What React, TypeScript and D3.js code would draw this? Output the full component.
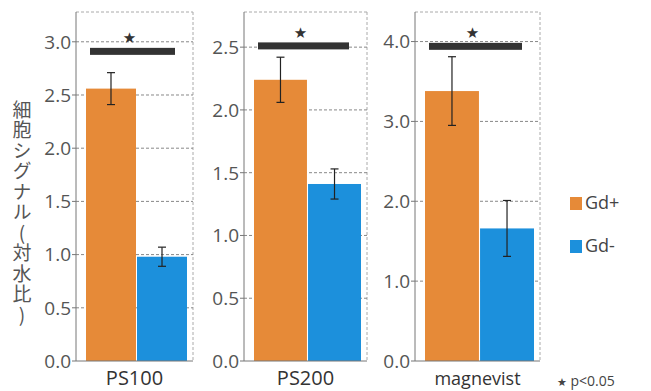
import React from 'react';
import * as d3 from 'd3';

// data
const categories = ['PS100', 'PS200', 'magnevist'];
const series = ['Gd+', 'Gd-'];
const gdPlus = [2.56, 2.24, 3.38];
const gdPlusErr = [0.15, 0.18, 0.43];
const gdMinus = [0.98, 1.41, 1.66];
const gdMinusErr = [0.09, 0.12, 0.35];
const yMax = [3.28, 2.78, 4.37];
const tickValues = [
  [0, 0.5, 1, 1.5, 2, 2.5, 3],
  [0, 0.5, 1, 1.5, 2, 2.5],
  [0, 1, 2, 3, 4],
];
const sigLevel = [2.91, 2.51, 3.94];

const colors = ['#E68A38', '#1C90DC'];
const width = 651;
const height = 391;
const panelX = [[76, 193], [244, 367], [415, 540]];
const top = 12;
const bottom = 361;
const font = '"Open Sans", "Noto Sans", sans-serif';

const App: React.FC = () => {
  return (
    <svg width={width} height={height} style={{ position: 'absolute', left: 0, top: 0, background: '#fff' }}>
      {categories.map((cat, i) => {
        const [x0, x1] = panelX[i];
        const y = d3.scaleLinear().domain([0, yMax[i]]).range([bottom, top]);
        const x = d3.scaleBand<string>().domain(series).range([x0 + 10, x1 - 6]).paddingInner(0.02);
        const vals = [gdPlus[i], gdMinus[i]];
        const errs = [gdPlusErr[i], gdMinusErr[i]];
        const sy = y(sigLevel[i]);
        const sx0 = x('Gd+')! + 4;
        const sx1 = x('Gd-')! + x.bandwidth() - 12;
        return (
          <g key={cat}>
            {/* frame */}
            <line x1={x0} x2={x1} y1={top} y2={top} stroke="#aaa" strokeDasharray="3,2" />
            <line x1={x1} x2={x1} y1={top} y2={bottom} stroke="#aaa" strokeDasharray="3,2" />
            {/* grid */}
            {tickValues[i].filter(t => t > 0).map(t => (
              <line key={t} x1={x0} x2={x1} y1={y(t)} y2={y(t)} stroke="#888" strokeDasharray="3,2" />
            ))}
            {/* bars */}
            {vals.map((v, j) => (
              <rect key={j} x={x(series[j])} y={y(v)} width={x.bandwidth()} height={y(0) - y(v)} fill={colors[j]} />
            ))}
            {/* error bars */}
            {vals.map((v, j) => {
              const cx = x(series[j])! + x.bandwidth() / 2;
              return (
                <g key={'e' + j} stroke="#222" strokeWidth={1.2}>
                  <line x1={cx} x2={cx} y1={y(v + errs[j])} y2={y(v - errs[j])} />
                  <line x1={cx - 4} x2={cx + 4} y1={y(v + errs[j])} y2={y(v + errs[j])} />
                  <line x1={cx - 4} x2={cx + 4} y1={y(v - errs[j])} y2={y(v - errs[j])} />
                </g>
              );
            })}
            {/* significance */}
            <rect x={sx0} y={sy - 3.5} width={sx1 - sx0} height={7} fill="#333" />
            <text x={(sx0 + sx1) / 2 - 3} y={sy - 8} textAnchor="middle" fontSize={15} fill="#333" fontFamily='"DejaVu Sans", sans-serif'>★</text>
            {/* axes */}
            <line x1={x0} x2={x0} y1={top} y2={bottom} stroke="#777" />
            <line x1={x0} x2={x1} y1={bottom} y2={bottom} stroke="#777" />
            {tickValues[i].map(t => (
              <g key={'t' + t}>
                <line x1={x0 - 4} x2={x0} y1={y(t)} y2={y(t)} stroke="#777" />
                <text x={x0 - 5} y={y(t)} dy="0.36em" textAnchor="end" fontSize={19} fill="#555" fontFamily={font}>
                  {d3.format('.1f')(t)}
                </text>
              </g>
            ))}
            <text x={(x0 + x1) / 2} y={385} textAnchor="middle" fontSize={cat === 'magnevist' ? 18 : 20} fill="#333" fontFamily={font}>
              {cat}
            </text>
          </g>
        );
      })}
      {/* y label */}
      <text
        x={22}
        y={100}
        fontSize={19}
        letterSpacing={1.5}
        fill="#555"
        fontFamily='"Noto Sans CJK JP", sans-serif'
        style={{ writingMode: 'vertical-rl', textOrientation: 'upright' } as React.CSSProperties}
      >
        細胞シグナル(対水比)
      </text>
      {/* legend */}
      {series.map((s, j) => (
        <g key={s} transform={`translate(570, ${197 + j * 43})`}>
          <rect width={12} height={13} fill={colors[j]} />
          <text x={15} y={12} fontSize={18} fill="#444" fontFamily={font}>{s}</text>
        </g>
      ))}
      <text x={557} y={386} fontSize={14} fill="#444" fontFamily={font}>
        <tspan fontSize={11} fontFamily='"DejaVu Sans", sans-serif'>★</tspan> p&lt;0.05
      </text>
    </svg>
  );
};

export default App;
